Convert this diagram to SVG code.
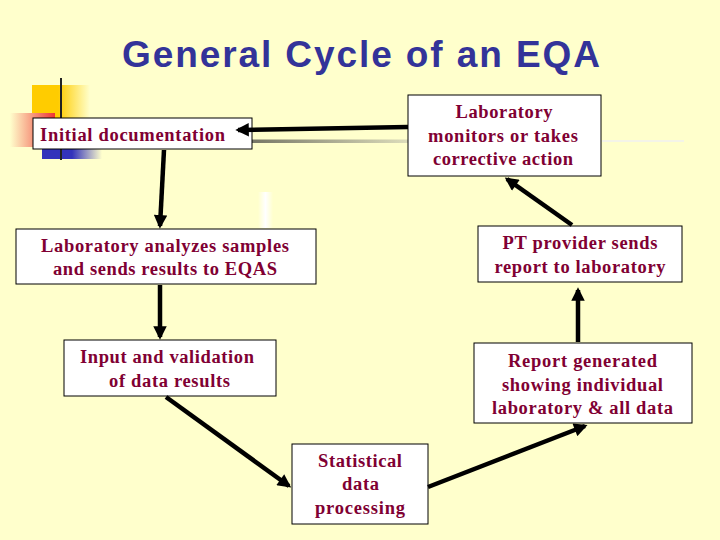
<svg xmlns="http://www.w3.org/2000/svg" width="720" height="540" viewBox="0 0 720 540">
<style>
.bx{fill:#ffffff;stroke:#000000;stroke-width:1}
.t{font-family:"Liberation Serif","Times New Roman",serif;font-weight:bold;font-size:18.5px;fill:#800033;text-anchor:middle}
.ttl{font-family:"Liberation Sans",Arial,sans-serif;font-weight:bold;font-size:37px;fill:#333399}
.c{stroke:#000000;stroke-width:4.5;fill:none;marker-end:url(#ah)}
</style>
<defs>
<marker id="ah" viewBox="0 0 10 10" refX="8" refY="5" markerWidth="3.2" markerHeight="3" orient="auto" markerUnits="strokeWidth">
<path d="M0,0 L10,5 L0,10 z" fill="#000000"/>
</marker>
<linearGradient id="gy" x1="0" y1="0" x2="1" y2="0">
<stop offset="0" stop-color="#ffcc00"/><stop offset="0.45" stop-color="#ffcc00"/><stop offset="1" stop-color="#ffffcc"/>
</linearGradient>
<linearGradient id="gr" x1="0" y1="0" x2="1" y2="0">
<stop offset="0" stop-color="#ffffcc"/><stop offset="1" stop-color="#ee3333"/>
</linearGradient>
<linearGradient id="gb" x1="0" y1="0" x2="1" y2="0">
<stop offset="0" stop-color="#3333bb"/><stop offset="0.5" stop-color="#3333bb"/><stop offset="1" stop-color="#ffffcc"/>
</linearGradient>
<linearGradient id="gg" x1="0" y1="0" x2="1" y2="0">
<stop offset="0" stop-color="#777766"/><stop offset="1" stop-color="#ddddbb"/>
</linearGradient>
<linearGradient id="gw" x1="0" y1="0" x2="1" y2="0">
<stop offset="0" stop-color="#ffffcc"/><stop offset="0.5" stop-color="#ffffff"/><stop offset="1" stop-color="#ffffcc"/>
</linearGradient>
</defs>
<rect x="0" y="0" width="720" height="540" fill="#ffffcc"/>
<g id="decor">
<rect x="32" y="85" width="58" height="36" fill="url(#gy)"/>
<rect x="10" y="113" width="45" height="34" fill="url(#gr)"/>
<rect x="42" y="148" width="60" height="11" fill="url(#gb)"/>
<line x1="61" y1="78" x2="61" y2="160" stroke="#222222" stroke-width="2"/>
<rect x="252" y="139.5" width="156" height="3.5" fill="url(#gg)"/>
<rect x="602" y="140" width="82" height="2" fill="#f4f4e8"/>
<rect x="258" y="192" width="15" height="36" fill="url(#gw)"/>
</g>
<text class="ttl" x="122" y="67" textLength="478" lengthAdjust="spacing">General Cycle of an EQA</text>
<g id="n1">
<rect class="bx" x="33" y="118" width="219" height="31"/>
<text class="t" x="132.5" y="141" textLength="185">Initial documentation</text>
</g>
<g id="n2">
<rect class="bx" x="408" y="95" width="193" height="81"/>
<text class="t" x="504" y="118" textLength="97">Laboratory</text>
<text class="t" x="503" y="142" textLength="150">monitors or takes</text>
<text class="t" x="503" y="165" textLength="140">corrective action</text>
</g>
<g id="n3">
<rect class="bx" x="478" y="226" width="204" height="56"/>
<text class="t" x="580" y="249" textLength="155">PT provider sends</text>
<text class="t" x="580" y="273" textLength="171">report to laboratory</text>
</g>
<g id="n4">
<rect class="bx" x="16" y="229" width="300" height="55"/>
<text class="t" x="165" y="252" textLength="248">Laboratory analyzes samples</text>
<text class="t" x="165" y="275" textLength="224">and sends results to EQAS</text>
</g>
<g id="n5">
<rect class="bx" x="64" y="340" width="212" height="56"/>
<text class="t" x="167" y="363" textLength="174">Input and validation</text>
<text class="t" x="169.5" y="387" textLength="121">of data results</text>
</g>
<g id="n6">
<rect class="bx" x="474" y="343" width="218" height="80"/>
<text class="t" x="582.5" y="367" textLength="149">Report generated</text>
<text class="t" x="582.5" y="391" textLength="161">showing individual</text>
<text class="t" x="582.5" y="414" textLength="181">laboratory &amp; all data</text>
</g>
<g id="n7">
<rect class="bx" x="292" y="444" width="136" height="80"/>
<text class="t" x="360" y="467" textLength="84">Statistical</text>
<text class="t" x="360.5" y="490" textLength="37">data</text>
<text class="t" x="360" y="514" textLength="90">processing</text>
</g>
<g id="connectors">
<path class="c" d="M408,127 L238,130"/>
<path class="c" d="M164,150 L160,226"/>
<path class="c" d="M160,285 L160,337"/>
<path class="c" d="M166,397 L289,486"/>
<path class="c" d="M428,487 L585,426"/>
<path class="c" d="M578,342 L578,290"/>
<path class="c" d="M572,225 L507,179"/>
</g>
</svg>
